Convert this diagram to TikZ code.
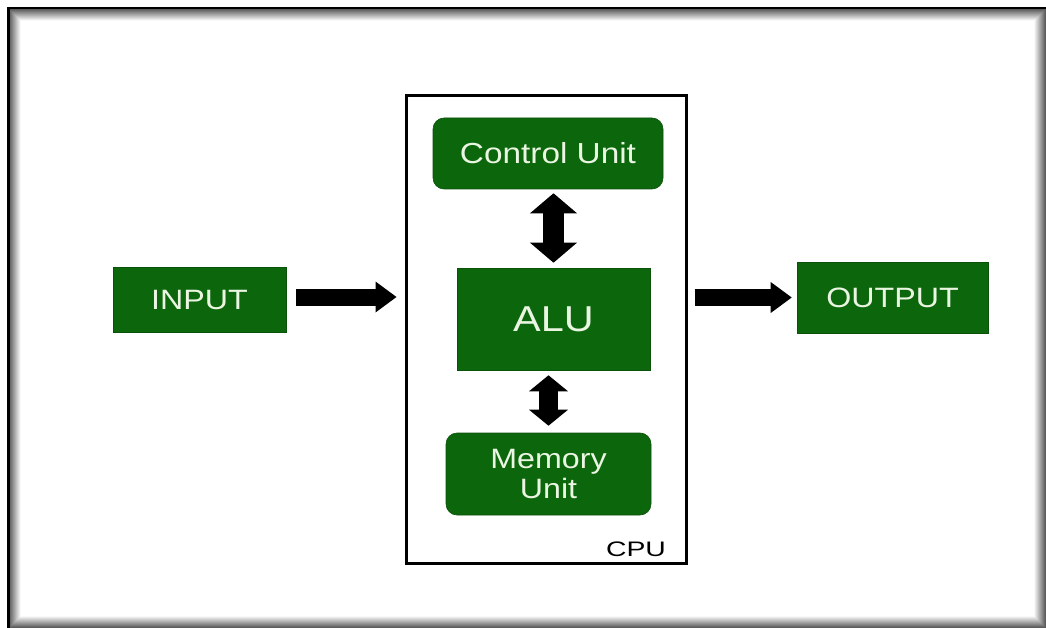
\documentclass[tikz,border=0pt]{standalone}
\usepackage{fontspec}
\setmainfont{Liberation Sans}
\newfontfamily\labfont{Liberation Sans}[FakeStretch=1.15]
\newfontfamily\cpufont{Liberation Sans}[FakeStretch=1.35]
\usetikzlibrary{arrows.meta}
\definecolor{boxgreen}{RGB}{12,102,12}
\definecolor{boxtext}{RGB}{234,245,226}
\tikzset{
  gbox/.style={fill=boxgreen, draw=boxgreen!80!black, line width=0.6, inner sep=0pt,
    text=boxtext, align=center, font=\labfont\fontsize{28}{30}\selectfont},
  roundbox/.style={gbox, rounded corners=11},
  cpubox/.style={draw=black, line width=3, inner sep=0pt},
  flowarrow/.style={line width=17, -{Triangle[width=31pt,length=21pt,line width=0pt]}},
  busarrow/.style={line width=#1, {Triangle[width=47pt,length=20pt,line width=0pt]}-{Triangle[width=47pt,length=20pt,line width=0pt]}},
  busarrowsmall/.style={line width=#1, {Triangle[width=39pt,length=16pt,line width=0pt]}-{Triangle[width=39pt,length=16pt,line width=0pt]}}
}
\begin{document}
\begin{tikzpicture}[x=1pt,y=-1pt]
  \useasboundingbox (0,0) rectangle (1046,628);
  % page frame: inner shadow rings, then the outer rule on top and left
  \foreach \i in {0,...,11} {
    \pgfmathsetmacro\g{64-5.6*\i}
    \draw[black!\g, line width=1.05] (9.5+\i,9.5+\i) rectangle (1045.5-\i,627.5-\i);
  }
  \draw[line width=2.5, line cap=rect] (8.25,628) -- (8.25,8.25) -- (1046,8.25);

  % processor enclosure
  \node[cpubox, minimum width=280, minimum height=467] (cpu) at (546,329.5) {};
  \node[font=\cpufont\fontsize{21}{21}\selectfont] (cpulabel) at (636,549) {CPU};

  % units
  \node[gbox, minimum width=173, minimum height=65] (inp) at (199.5,300) {INPUT};
  \node[gbox, minimum width=191, minimum height=71] (out) at (892.5,297.5) {OUTPUT};
  \node[roundbox, minimum width=230, minimum height=71, font=\labfont\fontsize{29}{30}\selectfont] (ctrl) at (548,153.5) {Control Unit};
  \node[gbox, minimum width=193, minimum height=102, font=\labfont\fontsize{36}{36}\selectfont] (alu) at (553.5,319) {ALU};
  \node[roundbox, minimum width=205, minimum height=82] (mem) at (548.5,474) {Memory\\Unit};

  % data flow
  \draw[flowarrow, shorten <=10pt, shorten >=8pt] (inp.east |- 0,297) -- (cpu.west |- 0,297);
  \draw[flowarrow, shorten <=7pt, shorten >=5pt] (cpu.east |- out.west) -- (out.west);
  \draw[busarrow=21, shorten <=4pt, shorten >=5pt] (alu.north |- ctrl.south) -- (alu.north);
  \draw[busarrowsmall=19, shorten <=5pt, shorten >=7pt] (mem.north |- alu.south) -- (mem.north);
\end{tikzpicture}
\end{document}
